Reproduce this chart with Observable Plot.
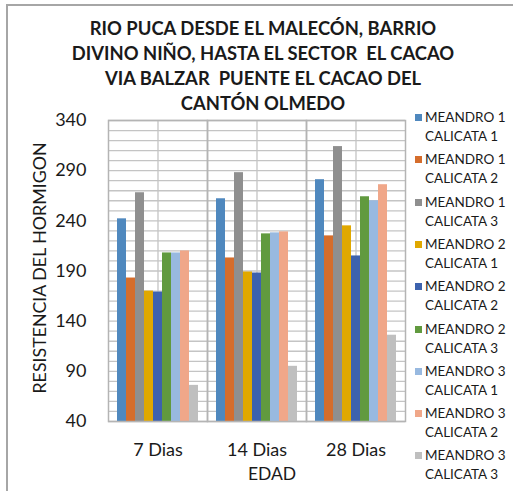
<!DOCTYPE html>
<html>
<head>
<meta charset="utf-8">
<script src="https://cdn.jsdelivr.net/npm/d3@7"></script>
<script src="https://cdn.jsdelivr.net/npm/@observablehq/plot@0.6"></script>
<style>
  html, body { margin: 0; padding: 0; background: #fff; }
  #wrap { position: relative; width: 513px; height: 491px; overflow: hidden; font-family: Lato, "Open Sans", sans-serif; color: #1a1a1a; }
  #border { position: absolute; left: 6px; top: 4px; width: 600px; height: 600px; border-left: 2px solid #a6a6a6; border-top: 2px solid #a6a6a6; }
  #title { position: absolute; left: 263px; top: 16px; transform: translateX(-50%); white-space: nowrap; text-align: center; font-weight: bold; font-size: 18.4px; line-height: 25px; }
  #chart { position: absolute; left: 0; top: 0; }
  #ylabel { position: absolute; left: 39px; top: 268px; transform: translate(-50%, -50%) rotate(-90deg); white-space: nowrap; font-size: 17.8px; }
  #xlabel { position: absolute; left: 272px; top: 473px; transform: translate(-50%, -50%); font-size: 17.5px; }
  .leg { position: absolute; left: 415px; width: 95px; font-size: 13.5px; line-height: 19px; }
  .sw { position: absolute; left: 0; top: 6px; width: 7px; height: 7px; }
  .lt { margin-left: 10px; }
</style>
</head>
<body>
<div id="wrap">
  <div id="border"></div>
  <div id="chart"></div>
  <div id="title">RIO PUCA DESDE EL MALECÓN, BARRIO<br>DIVINO NIÑO, HASTA EL SECTOR&nbsp; EL CACAO<br>VIA BALZAR&nbsp; PUENTE EL CACAO DEL<br>CANTÓN OLMEDO</div>
  <div id="ylabel">RESISTENCIA DEL HORMIGON</div>
  <div id="xlabel">EDAD</div>
</div>
<script>
const categories = ["7 Dias", "14 Dias", "28 Dias"];
const series = [
  "MEANDRO 1 CALICATA 1", "MEANDRO 1 CALICATA 2", "MEANDRO 1 CALICATA 3",
  "MEANDRO 2 CALICATA 1", "MEANDRO 2 CALICATA 2", "MEANDRO 2 CALICATA 3",
  "MEANDRO 3 CALICATA 1", "MEANDRO 3 CALICATA 2", "MEANDRO 3 CALICATA 3"
];
const colors = ["#4f88be", "#d56d2c", "#8f8f8f", "#e0a800", "#3d62ae", "#619a3f", "#98b9e0", "#f0a789", "#bfbfbf"];
const values7 = [242, 183, 268, 170, 169, 208, 208, 210, 76];
const values14 = [262, 203, 288, 189, 188, 227, 228, 229, 95];
const values28 = [281, 225, 314, 235, 205, 264, 260, 276, 126];
const yTicks = [40, 90, 140, 190, 240, 290, 340];
const yGrid = [40, 50, 60, 70, 80, 90, 100, 110, 120, 130, 140, 150, 160, 170, 180, 190, 200, 210, 220, 230, 240, 250, 260, 270, 280, 290, 300, 310, 320, 330, 340];

const valueSets = [values7, values14, values28];
const data = [];
categories.forEach((c, ci) => series.forEach((s, si) => data.push({cat: c, series: s, value: valueSets[ci][si]})));

const chart = Plot.plot({
  width: 513,
  height: 491,
  marginLeft: 107,
  marginRight: 108,
  marginTop: 120,
  marginBottom: 70,
  style: {fontFamily: "Lato, 'Open Sans', sans-serif", fontSize: "18px", color: "#1a1a1a", background: "transparent"},
  fx: {domain: categories, padding: 0, label: null, axis: "bottom", tickSize: 0, tickPadding: 22},
  x: {domain: series, paddingInner: 0, paddingOuter: 0.86, axis: null},
  y: {domain: [40, 340], ticks: yTicks, tickSize: 0, tickPadding: 22, label: null},
  color: {domain: series, range: colors},
  marks: [
    Plot.ruleY(yGrid, {stroke: "#c4c4c4", strokeWidth: 1.3, strokeOpacity: 1}),
    Plot.ruleX([series[4]], {stroke: "#c4c4c4", strokeWidth: 1.3}),
    Plot.barY(data, {fx: "cat", x: "series", y1: 40, y2: "value", fill: "series"}),
    Plot.frame({stroke: "#b4b4b4", strokeWidth: 1.5})
  ]
});
document.getElementById("chart").appendChild(chart);

const wrap = document.getElementById("wrap");
series.forEach((s, i) => {
  const d = document.createElement("div");
  d.className = "leg";
  d.style.top = (108 + i * 42.3) + "px";
  const sw = document.createElement("div");
  sw.className = "sw";
  sw.style.background = colors[i];
  const t = document.createElement("div");
  t.className = "lt";
  t.textContent = s;
  d.appendChild(sw);
  d.appendChild(t);
  wrap.appendChild(d);
});
</script>
</body>
</html>
